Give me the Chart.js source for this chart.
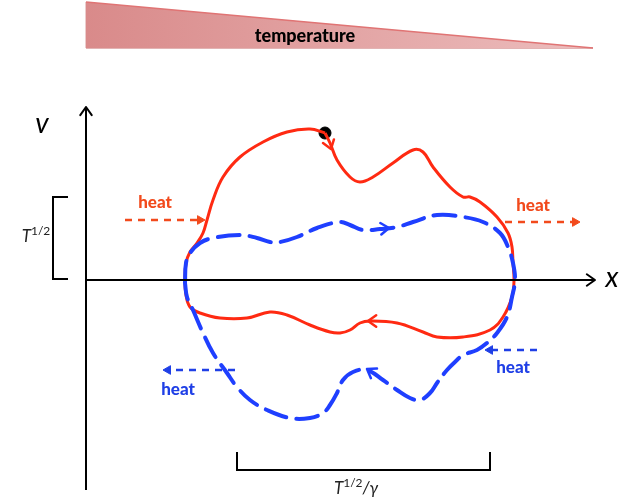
<!DOCTYPE html>
<html>
<head>
<meta charset="utf-8">
<script src="https://cdn.jsdelivr.net/npm/chart.js@4/dist/chart.umd.min.js"></script>
<style>
  html, body { margin: 0; padding: 0; background: #ffffff; }
  canvas { display: block; }
</style>
</head>
<body>
<canvas id="c" width="639" height="501"></canvas>
<script>
// phase-space loops, origin at the axes crossing (x right, v up)
const redX = [239, 244, 251, 264, 274, 287, 307, 327, 337, 347, 364, 377, 384, 394, 411, 422, 426, 427, 428, 426, 417, 404, 377, 351, 337, 311, 284, 274, 264, 254, 244, 224, 201, 184, 161, 134, 114, 104, 100, 99, 100, 104, 111, 117, 121, 127, 137, 154, 177, 201, 224, 239]
const redY = [147, 137, 120, 103, 98, 103, 117, 130, 128, 113, 93, 83, 83, 78, 63, 47, 33, 17, 0, -17, -37, -50, -57, -57, -52, -43, -41, -43, -50, -53, -52, -45, -35, -32, -38, -38, -33, -27, -15, 0, 17, 28, 37, 47, 60, 80, 103, 123, 138, 148, 151, 147]

const blueX = [99, 100, 104, 114, 127, 154, 171, 184, 194, 211, 231, 254, 264, 277, 294, 311, 327, 351, 377, 397, 414, 422, 427, 429, 426, 421, 411, 401, 391, 377, 371, 361, 351, 344, 334, 324, 311, 297, 281, 267, 257, 251, 244, 237, 224, 204, 181, 164, 151, 141, 127, 117, 107, 101, 99]
const blueY = [-3, 17, 27, 37, 42, 45, 42, 38, 38, 43, 52, 58, 55, 50, 51, 53, 58, 65, 63, 58, 47, 33, 17, 0, -17, -37, -53, -63, -70, -75, -80, -90, -103, -113, -120, -118, -110, -100, -90, -92, -100, -113, -125, -133, -138, -138, -130, -120, -107, -93, -73, -53, -30, -17, -3]

// start point of the cycle
const startPoint = [239, 147]

// temperature wedge (top edge) and its base level
const wedgeX = [0, 507]
const wedgeY = [278, 232]
const wedgeBase = 232

// axes
const yAxisX = [0, 0]
const yAxisY = [-210, 173]
const xAxisX = [0, 509]
const xAxisY = [0, 0]

// brackets
const leftBracketX = [-18, -33, -33, -18]
const leftBracketY = [83, 83, 1, 1]
const bottomBracketX = [151, 151, 404, 404]
const bottomBracketY = [-172, -190, -190, -172]

// heat arrows: shaft [x0, x1], y, head at x1 end
const heatArrows = [
  { x: [39, 114], y: 60, color: '#f24a1c' },
  { x: [419, 489], y: 58, color: '#f24a1c' },
  { x: [149, 82], y: -90, color: '#1f3fe6' },
  { x: [451, 404], y: -70, color: '#1f3fe6' }
]

// chevron arrow heads: x, y, screen angle (deg), arm length
const chevrons = [
  { x: 245, y: 131, a: 72, len: 10, color: '#ff2a12', w: 2.5 },
  { x: 282, y: -41, a: 180, len: 10, color: '#ff2a12', w: 2.5 },
  { x: 303, y: 52, a: -5, len: 10, color: '#1f3fff', w: 2.5 },
  { x: 281, y: -89, a: -148, len: 10, color: '#1f3fff', w: 2.5 },
  { x: 0, y: 173, a: -90, len: 10, color: '#000000', w: 2 },
  { x: 509, y: 0, a: 0, len: 10, color: '#000000', w: 2 }
]

// labels
const heatLabels = [
  { text: 'heat', x: 69, y: 77, color: '#f24a1c' },
  { text: 'heat', x: 447, y: 74, color: '#f24a1c' },
  { text: 'heat', x: 92, y: -110, color: '#1f3fe6' },
  { text: 'heat', x: 427, y: -88, color: '#1f3fe6' }
]

const pts = (xs, ys) => xs.map((x, i) => ({ x: x, y: ys[i] }))

const lineSet = (xs, ys, color, width, extra) => Object.assign({
  data: pts(xs, ys),
  showLine: true,
  borderColor: color,
  borderWidth: width,
  pointRadius: 0,
  tension: 0,
  fill: false,
  clip: false
}, extra || {})

const datasets = []

// wedge
datasets.push(lineSet(wedgeX, wedgeY, '#e07474', 1.5, {
  fill: { value: wedgeBase },
  backgroundColor: function(ctx) {
    const chart = ctx.chart
    if (!chart.chartArea) return '#e0a0a0'
    const sx = chart.scales.x
    const g = chart.ctx.createLinearGradient(sx.getPixelForValue(0), 0, sx.getPixelForValue(507), 0)
    g.addColorStop(0, '#d98a8a')
    g.addColorStop(1, '#ecbdbd')
    return g
  }
}))
datasets.push(lineSet([0, 507], [wedgeBase, wedgeBase], '#d99a9a', 1.5))
datasets.push(lineSet([0, 0], [wedgeBase, 278], '#d99a9a', 1))

// axes and brackets
datasets.push(lineSet(yAxisX, yAxisY, '#000000', 2))
datasets.push(lineSet(xAxisX, xAxisY, '#000000', 2))
datasets.push(lineSet(leftBracketX, leftBracketY, '#000000', 2))
datasets.push(lineSet(bottomBracketX, bottomBracketY, '#000000', 2))

// heat arrows
heatArrows.forEach(h => {
  datasets.push(lineSet(h.x, [h.y, h.y], h.color, 2.5, { borderDash: [7, 6] }))
  datasets.push({
    data: [{ x: h.x[1], y: h.y }],
    pointStyle: 'triangle',
    pointRadius: 5,
    rotation: h.x[1] > h.x[0] ? 90 : -90,
    backgroundColor: h.color,
    borderColor: h.color,
    borderWidth: 1,
    clip: false
  })
})

// loops
datasets.push(lineSet(blueX, blueY, '#1f3fff', 4, { tension: 0.4, borderDash: [22, 10], borderCapStyle: 'round' }))
datasets.push(lineSet(redX, redY, '#ff2a12', 3, { tension: 0.4 }))

// start dot
datasets.push({
  data: [{ x: startPoint[0], y: startPoint[1] }],
  pointRadius: 6,
  backgroundColor: '#000000',
  borderColor: '#000000',
  clip: false
})

const drawParts = (ctx, parts, cx, cy) => {
  // measure then draw centred
  let total = 0
  parts.forEach(p => {
    ctx.font = p.font
    total += ctx.measureText(p.t).width
  })
  let x = cx - total / 2
  parts.forEach(p => {
    ctx.font = p.font
    ctx.fillText(p.t, x, cy - (p.up || 0))
    x += ctx.measureText(p.t).width
  })
}

const overlay = {
  id: 'overlay',
  afterDatasetsDraw(chart) {
    const ctx = chart.ctx
    const sx = chart.scales.x
    const sy = chart.scales.y
    ctx.save()
    ctx.lineCap = 'round'
    ctx.lineJoin = 'round'
    chevrons.forEach(c => {
      const px = sx.getPixelForValue(c.x)
      const py = sy.getPixelForValue(c.y)
      const a = c.a * Math.PI / 180
      ctx.strokeStyle = c.color
      ctx.lineWidth = c.w
      ctx.beginPath()
      ;[-35, 35].forEach(d => {
        const b = a + Math.PI + d * Math.PI / 180
        ctx.moveTo(px, py)
        ctx.lineTo(px + c.len * Math.cos(b), py + c.len * Math.sin(b))
      })
      ctx.stroke()
    })

    ctx.textBaseline = 'middle'
    ctx.textAlign = 'center'
    heatLabels.forEach(l => {
      ctx.fillStyle = l.color
      ctx.font = '900 17px Lato'
      ctx.fillText(l.text, sx.getPixelForValue(l.x), sy.getPixelForValue(l.y))
    })

    ctx.fillStyle = '#000000'
    ctx.font = '900 18px Lato'
    ctx.fillText('temperature', sx.getPixelForValue(219), sy.getPixelForValue(244))

    ctx.font = 'italic 28px Lato'
    ctx.fillText('v', sx.getPixelForValue(-44), sy.getPixelForValue(156))
    ctx.fillText('x', sx.getPixelForValue(526), sy.getPixelForValue(2))

    ctx.textAlign = 'left'
    ctx.fillStyle = '#222222'
    drawParts(ctx, [
      { t: 'T', font: 'italic 17px Lato' },
      { t: '1/2', font: '12px Lato', up: 6 }
    ], sx.getPixelForValue(-50), sy.getPixelForValue(43))
    drawParts(ctx, [
      { t: 'T', font: 'italic 17px Lato' },
      { t: '1/2', font: '12px Lato', up: 6 },
      { t: '/\u03b3', font: 'italic 17px Lato' }
    ], sx.getPixelForValue(270), sy.getPixelForValue(-209))
    ctx.restore()
  }
}

new Chart(document.getElementById('c'), {
  type: 'scatter',
  data: { datasets: datasets },
  options: {
    responsive: false,
    animation: false,
    layout: { padding: 0, autoPadding: false },
    plugins: { legend: { display: false }, tooltip: { enabled: false } },
    scales: {
      x: { type: 'linear', display: false, min: -86, max: 553 },
      y: { type: 'linear', display: false, min: -221, max: 280 }
    }
  },
  plugins: [overlay]
})
</script>
</body>
</html>
